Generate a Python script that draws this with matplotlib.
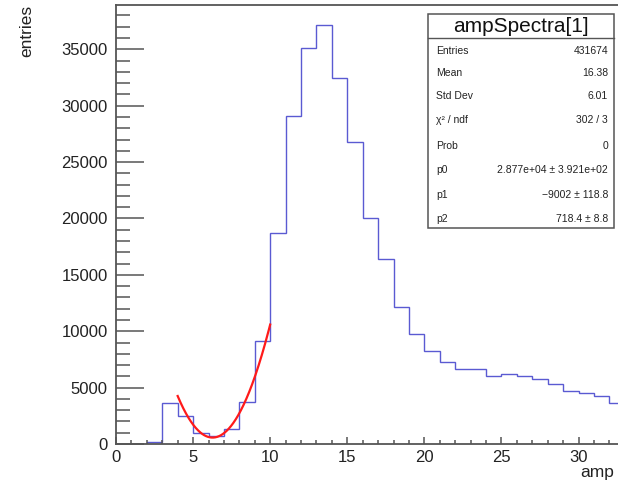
import numpy as np
import matplotlib
matplotlib.use("Agg")
import matplotlib.pyplot as plt
from matplotlib.patches import Rectangle
from matplotlib.lines import Line2D

plt.rcParams['font.family'] = ['Liberation Sans', 'DejaVu Sans']

# histogram ampSpectra[1], bins of width 1 starting at 0
bin_edges = np.arange(0, 34)
counts = [0, 40, 150, 3660, 2480, 1000, 680, 1360, 3700, 9140,
          18700, 29100, 35150, 37120, 32500, 26820, 20080, 16400, 12130, 9760,
          8250, 7280, 6630, 6630, 6030, 6210, 6030, 5740, 5300, 4730,
          4550, 4260, 3660]

# pol2 fit parameters, fit range 4..10
p0, p1, p2 = 2.877e4, -9002, 718.4
fit_range = (4, 10)

stats_labels = ["Entries", "Mean", "Std Dev", "χ² / ndf", "Prob", "p0", "p1", "p2"]
stats_values = ["431674", "16.38", "6.01", "302 / 3", "0",
                "2.877e+04 ± 3.921e+02", "−9002 ± 118.8", "718.4 ± 8.8"]

W, H = 618, 483
fig = plt.figure(figsize=(W / 100, H / 100), dpi=100)
ax = fig.add_axes([116 / W, 1 - 444 / H, (W - 116) / W, 439 / H])

ax.stairs(counts, bin_edges, color="#5a5ad2", linewidth=1.0)

xf = np.linspace(fit_range[0], fit_range[1], 200)
ax.plot(xf, p0 + p1 * xf + p2 * xf ** 2, color="#ff1a1a", linewidth=1.6)

ax.set_xlim(0, 32.56)
ax.set_ylim(0, 38930)

ax.set_xticks(np.arange(0, 35, 5))
ax.set_xticks(np.arange(0, 33, 1), minor=True)
ax.set_yticks(np.arange(0, 40000, 5000))
ax.set_yticks(np.arange(0, 39000, 1000), minor=True)

ax.tick_params(axis="both", which="both", direction="in", colors="#555555",
               labelcolor="#222222", labelsize=12, width=1.1)
ax.tick_params(axis="y", which="major", length=20, pad=6)
ax.tick_params(axis="y", which="minor", length=10)
ax.tick_params(axis="x", which="major", length=5, pad=4)
ax.tick_params(axis="x", which="minor", length=3)

for s in ["left", "bottom", "top"]:
    ax.spines[s].set_color("#555555")
    ax.spines[s].set_linewidth(1.3)
ax.spines["right"].set_visible(False)

fig.text(27 / W, 1 - 5 / H, "entries", rotation=90, ha="center", va="top",
         fontsize=12.5, color="#222222")
# x title is cut by the canvas edge in the original, only "amp" shows
fig.text(614 / W, 1 - 473 / H, "amp", ha="right", va="center",
         fontsize=12.5, color="#222222")

# stats box
bx0, bx1 = 428 / W, 614 / W
by_top, by_bot = 1 - 14 / H, 1 - 228 / H
fig.patches.append(Rectangle((bx0, by_bot), bx1 - bx0, by_top - by_bot,
                             transform=fig.transFigure, facecolor="white",
                             edgecolor="#555555", linewidth=1.1, zorder=5))
fig.lines.append(Line2D([bx0, bx1], [1 - 38 / H, 1 - 38 / H], transform=fig.transFigure,
                        color="#555555", linewidth=1.0, zorder=6))
fig.text((bx0 + bx1) / 2, 1 - 26 / H, "ampSpectra[1]", ha="center", va="center",
         fontsize=15, color="#111111", zorder=7)
row_y = [51, 73, 96, 120, 146, 170, 195, 219]
for lab, val, yy in zip(stats_labels, stats_values, row_y):
    fig.text(436 / W, 1 - yy / H, lab, ha="left", va="center", fontsize=7.5,
             color="#222222", zorder=7)
    fig.text(608 / W, 1 - yy / H, val, ha="right", va="center", fontsize=7.5,
             color="#222222", zorder=7)

fig.savefig("out.png", dpi=100)
